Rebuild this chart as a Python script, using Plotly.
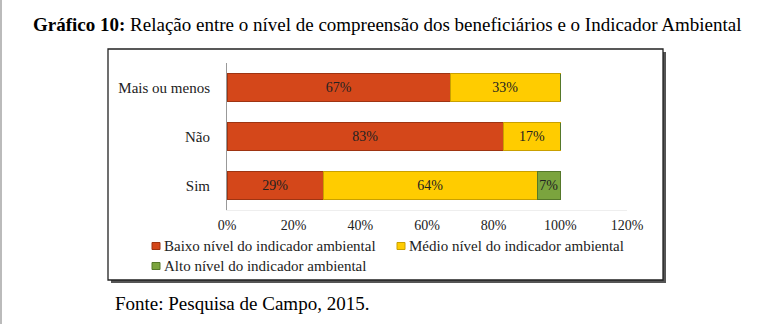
import plotly.graph_objects as go

categories = ["Sim", "Não", "Mais ou menos"]
baixo = [29, 83, 67]
medio = [64, 17, 33]
alto = [7, 0, 0]
series_names = ["Baixo nível do indicador ambiental",
                "Médio nível do indicador ambiental",
                "Alto nível do indicador ambiental"]
tick_vals = [0, 20, 40, 60, 80, 100, 120]
tick_text = ["0%", "20%", "40%", "60%", "80%", "100%", "120%"]

colors = ["#D4471A", "#FFCC00", "#7BA43E"]
edges = ["#9E3412", "#C9A000", "#55782A"]
SERIF = "Liberation Serif"

W, H = 772, 324
L, R, T, B = 227, 627, 63, 210


def px(x):
    return (x - L) / (R - L)


def py(y):
    return (B - y) / (B - T)


fig = go.Figure()
for name, vals, c, e in zip(series_names, [baixo, medio, alto], colors, edges):
    fig.add_trace(go.Bar(
        y=categories, x=vals, orientation="h", name=name,
        marker=dict(color=c, line=dict(color=e, width=1)),
        text=[f"{v}%" if v else "" for v in vals],
        textposition="inside", insidetextanchor="middle",
        textangle=0, constraintext="none",
        textfont=dict(family=SERIF, size=14, color="#222"),
        cliponaxis=False, showlegend=False,
    ))

shapes = [
    # shadow
    dict(type="rect", xref="paper", yref="paper",
         x0=px(111), x1=px(666), y0=py(283), y1=py(52),
         fillcolor="#555", line=dict(width=0), layer="below"),
    # box
    dict(type="rect", xref="paper", yref="paper",
         x0=px(108), x1=px(663), y0=py(280), y1=py(49),
         fillcolor="white", line=dict(color="#222", width=1.3), layer="below"),
    # page edge
    dict(type="line", xref="paper", yref="paper",
         x0=px(1), x1=px(1), y0=py(324), y1=py(0),
         line=dict(color="#bbb", width=2)),
]

annotations = [
    dict(text="<b>Gráfico 10:</b> Relação entre o nível de compreensão dos beneficiários e o Indicador Ambiental",
         xref="paper", yref="paper", x=px(387), y=py(25), showarrow=False,
         xanchor="center", yanchor="middle",
         font=dict(family=SERIF, size=19, color="black")),
    dict(text="Fonte: Pesquisa de Campo, 2015.",
         xref="paper", yref="paper", x=px(113), y=py(303), showarrow=False,
         xanchor="left", yanchor="middle",
         font=dict(family=SERIF, size=19, color="black")),
]

# manual legend (compact marker next to text, as in the reference)
legend_pos = [(152, 246), (397, 246), (152, 266)]
for name, c, e, (lx, ly) in zip(series_names, colors, edges, legend_pos):
    shapes.append(dict(type="rect", xref="paper", yref="paper",
                       x0=px(lx), x1=px(lx + 8), y0=py(ly + 3.5), y1=py(ly - 3.5),
                       fillcolor=c, line=dict(color=e, width=1)))
    annotations.append(dict(text=name, xref="paper", yref="paper",
                            x=px(lx + 10), y=py(ly), showarrow=False,
                            xanchor="left", yanchor="middle",
                            font=dict(family=SERIF, size=15, color="#222")))

fig.update_layout(
    width=W, height=H,
    margin=dict(l=L, r=W - R, t=T, b=H - B, pad=0),
    barmode="stack", bargap=0.43,
    paper_bgcolor="white", plot_bgcolor="white",
    shapes=shapes, annotations=annotations,
    showlegend=False,
    xaxis=dict(range=[0, 120], tickvals=tick_vals, ticktext=tick_text,
               showgrid=False, zeroline=False, showline=True, linecolor="#eee",
               linewidth=1, ticks="", ticklabelstandoff=2,
               tickfont=dict(family=SERIF, size=14, color="#222")),
    yaxis=dict(showgrid=False, zeroline=False, showline=True, linecolor="#999",
               linewidth=1, ticks="", ticklabelstandoff=13,
               tickfont=dict(family=SERIF, size=15, color="#222")),
)

fig.write_html("out.html")
